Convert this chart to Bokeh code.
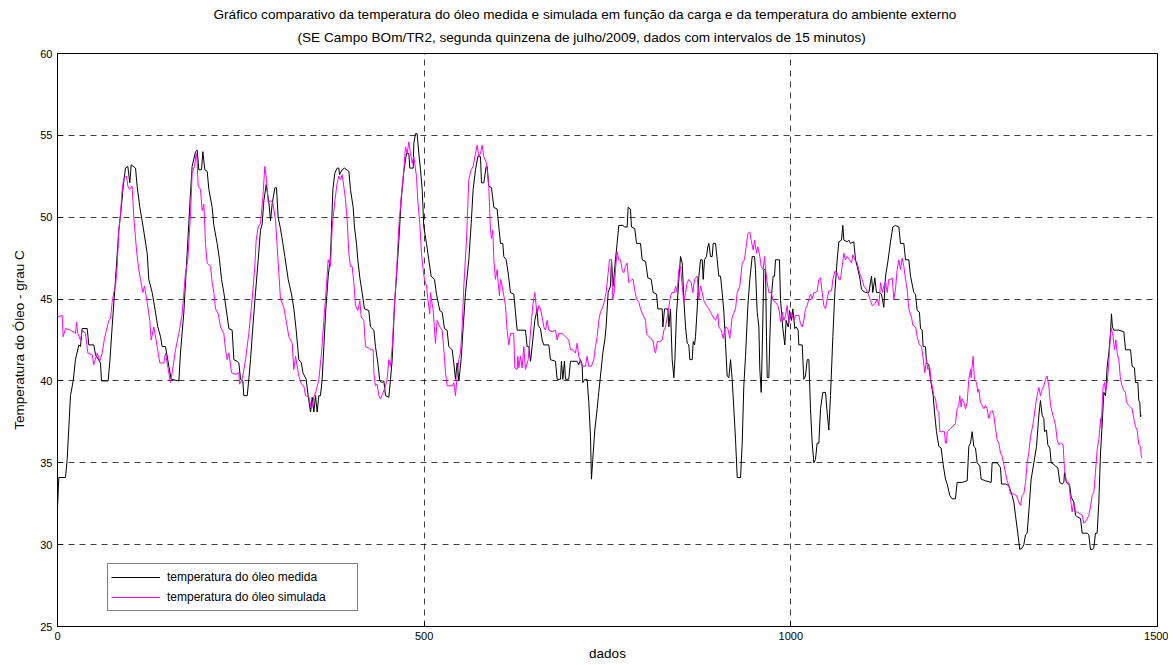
from bokeh.plotting import figure
from bokeh.models import Title, Legend, LegendItem, FixedTicker, Range1d
from bokeh.embed import file_html
from bokeh.resources import INLINE

titulo_1 = "Gráfico comparativo da temperatura do óleo medida e simulada em função da carga e da temperatura do ambiente externo"
titulo_2 = "(SE Campo BOm/TR2, segunda quinzena de julho/2009, dados com intervalos de 15 minutos)"
rotulo_x = "dados"
rotulo_y = "Temperatura do Óleo - grau C"
nome_medida = "temperatura do óleo medida"
nome_simulada = "temperatura do óleo simulada"
x_ticks = [0, 500, 1000, 1500]
y_ticks = [25, 30, 35, 40, 45, 50, 55, 60]

x_medida = [0, 1.8, 10.9, 13.2, 17.7, 21.4, 24.5, 29.1, 31.4, 33.6, 40.5, 42.7, 49.5, 51.8, 58.6, 60, 69, 71.4, 74.5, 79.1,
    83.6, 86.8, 89.6, 92.7, 95.9, 98.6, 100.5, 106.4, 108.6, 112.3, 116.8, 122.3, 124.5, 129.1, 133.6, 136.8, 140.5, 142.7, 147.3, 151.8,
    155, 165.5, 167.7, 172.3, 176.8, 180.5, 183.6, 188.2, 190.5, 192.7, 196.4, 198.2, 200.9, 204.1, 206.4, 210.9, 213.2, 217.7, 220.9, 223.7,
    226.8, 230, 233.7, 238.2, 240.5, 245, 247.3, 249.6, 252.7, 254.1, 258.7, 260.9, 263.2, 266.4, 270, 273.7, 276.8, 279.1, 281.4, 284.6,
    288.2, 290.5, 292.7, 296.4, 298.6, 300.9, 304.1, 307.3, 310, 314.6, 319.1, 322.3, 325.5, 329.1, 332.7, 334.6, 339.1, 341.8, 345, 347.3,
    349.6, 351.8, 354.1, 356.4, 358.6, 360.9, 363.2, 365.5, 369.1, 372.3, 375.5, 378.2, 381.4, 383.6, 384.6, 388.2, 391.4, 397.3, 399.5, 403.2,
    405, 407.7, 409.5, 412.3, 415.4, 418.6, 424.5, 426.8, 431.4, 433.6, 436.8, 439.5, 442.7, 445, 447.3, 451.8, 454.1, 456.4, 459.5, 462.3,
    465.4, 468.6, 472.3, 475.9, 479.1, 480.4, 485, 485.9, 488.2, 490.4, 492.7, 495, 497.3, 499.5, 503.2, 506.3, 509.5, 514.1, 516.8, 521.3,
    524.5, 527.7, 531.3, 533.6, 538.2, 540.4, 542.7, 545, 547.3, 550.4, 553.2, 556.4, 560.9, 564.1, 566.8, 570, 573.2, 576.8, 578.2, 581.4,
    584.5, 585.9, 588.1, 591.8, 595, 599.5, 601.8, 604.1, 607.2, 608.6, 611.8, 614.5, 617.7, 622.2, 624.5, 626.8, 638.1, 640.4, 642.7, 645,
    647.2, 650.9, 654.1, 655.4, 658.6, 660.9, 663.1, 670, 672.2, 679.1, 681.3, 685.9, 687.2, 689.1, 691.3, 692.7, 697.2, 699.5, 708.6, 710.9,
    713.1, 715.4, 716.3, 719.1, 722.2, 724.5, 726.8, 728.1, 729.9, 732.7, 735.9, 738.1, 740.4, 743.6, 746.3, 748.1, 750.9, 754.1, 755.4, 757.7,
    760.9, 763.1, 765.4, 770.9, 773.6, 776.8, 778.1, 781.3, 782.7, 787.2, 789.6, 795, 797.3, 801.9, 805, 809.6, 812.3, 816.9, 818.7, 824.6,
    825.5, 827.8, 832.3, 833.7, 835.9, 838.2, 840.5, 841.9, 844.1, 847.3, 849.6, 851.9, 854.1, 856.4, 858.7, 860.9, 862.3, 865.5, 866.9, 868.7,
    870, 872.3, 874.6, 876.9, 879.1, 880.5, 882.3, 885, 886.8, 888.2, 890.5, 892.8, 894.1, 897.3, 899.6, 901.8, 904.1, 906.4, 908.7, 910.9,
    913.2, 915.5, 917.8, 920, 922.3, 924.6, 926.9, 931.4, 933.7, 935.9, 938.2, 941.4, 944.1, 947.3, 950.5, 951.8, 954.1, 956.4, 957.7, 959.6,
    960.9, 963.2, 965.5, 966.8, 967.8, 970, 971.4, 973.2, 975.9, 977.7, 979.1, 984.5, 985.9, 987.3, 989.1, 991.8, 993.6, 996.4, 998.2, 1000.9,
    1002.7, 1005.5, 1007.3, 1010, 1010.9, 1015.5, 1017.7, 1020, 1022.3, 1024.6, 1026.8, 1029.1, 1031.4, 1033.6, 1035.9, 1038.2, 1040.5, 1043.6, 1047.3, 1049.5,
    1051.8, 1054.1, 1057.3, 1060, 1063.2, 1065.5, 1069.1, 1070.9, 1072.3, 1076.8, 1079.1, 1081.4, 1085.9, 1088.2, 1090.5, 1093.6, 1096.4, 1098.2, 1101.8, 1106.4,
    1110, 1111.8, 1114.5, 1116.8, 1120.9, 1123.6, 1126.8, 1129.1, 1132.7, 1135.9, 1139.1, 1142.7, 1147.3, 1149.5, 1154.1, 1156.4, 1160.9, 1163.2, 1167.7, 1170,
    1172.3, 1175.4, 1176.8, 1179.1, 1180.4, 1183.6, 1185, 1188.2, 1190.4, 1194.1, 1195.9, 1198.6, 1201.8, 1205, 1207.7, 1210.9, 1213.2, 1216.8, 1220, 1224.5,
    1226.8, 1233.6, 1240.5, 1242.7, 1245, 1247.3, 1249.5, 1251.8, 1254.1, 1257.7, 1259.5, 1265.4, 1273.2, 1274.5, 1281.4, 1285.9, 1287.3, 1292.7, 1297.3, 1301.8,
    1304.1, 1306.3, 1309.5, 1312.2, 1315.4, 1317.7, 1320, 1322.3, 1324.5, 1327.7, 1331.4, 1335, 1338.2, 1340.4, 1342.7, 1345, 1345.9, 1348.6, 1350.4, 1353.2,
    1355, 1358.6, 1360.9, 1364.1, 1366.8, 1370, 1372.3, 1373.2, 1375.9, 1379.1, 1380.4, 1382.3, 1385.9, 1388.2, 1390.4, 1395, 1397.3, 1404.1, 1406.4, 1408.6,
    1410.9, 1413.2, 1415.4, 1417.7, 1420, 1422.3, 1424.5, 1426.8, 1429.1, 1431.4, 1433.6, 1435.9, 1437.2, 1438.6, 1440.4, 1447.3, 1454.1, 1456.4, 1463.2, 1465.4,
    1468.6, 1470, 1473.2, 1474.5, 1475.9, 1476.8, 1477.7]
y_medida = [32.3, 34.1, 34.1, 35.2, 39.1, 40.0, 41.3, 42.2, 42.1, 43.2, 43.2, 42.2, 42.2, 41.6, 41.1, 40.0, 40.0, 41.2, 43.3, 46.2,
    49.2, 50.5, 51.9, 53.0, 53.1, 52.1, 53.2, 53.0, 51.9, 50.6, 49.4, 47.8, 46.2, 45.4, 44.2, 43.3, 42.7, 42.1, 42.1, 40.9,
    40.1, 40.0, 41.7, 44.2, 47.8, 50.8, 53.1, 54.0, 54.1, 52.9, 52.9, 54.0, 52.9, 52.8, 51.7, 50.6, 49.5, 48.4, 47.4, 46.2,
    45.4, 44.4, 43.2, 43.1, 41.3, 41.2, 41.1, 40.1, 40.0, 39.1, 39.1, 40.1, 41.3, 43.3, 45.4, 47.4, 49.2, 49.6, 51.0, 52.0,
    50.9, 49.8, 50.8, 51.8, 51.8, 50.0, 49.3, 48.4, 47.6, 46.2, 45.3, 44.4, 43.1, 41.3, 41.1, 40.5, 40.1, 39.1, 38.1, 39.0,
    38.1, 39.1, 38.1, 39.1, 39.1, 40.1, 42.1, 44.1, 46.4, 47.6, 51.7, 52.7, 53.0, 53.0, 52.6, 52.9, 53.0, 52.8, 51.7, 50.6,
    49.4, 48.4, 47.4, 46.3, 45.4, 44.4, 44.3, 43.3, 43.1, 42.1, 41.1, 40.0, 39.9, 40.0, 39.1, 39.0, 40.1, 41.3, 44.6, 46.4,
    48.5, 51.0, 52.8, 53.9, 53.9, 53.0, 53.0, 54.5, 55.1, 55.1, 53.9, 52.9, 51.7, 49.4, 48.4, 47.4, 46.4, 46.2, 45.3, 44.3,
    44.2, 43.2, 43.1, 42.1, 41.9, 41.1, 40.1, 41.1, 40.0, 41.3, 43.3, 45.4, 47.4, 49.6, 51.7, 52.9, 53.7, 53.7, 52.1, 52.1,
    53.1, 53.1, 51.9, 51.8, 50.6, 50.5, 49.4, 48.4, 48.4, 47.6, 47.4, 46.6, 45.4, 45.3, 44.2, 43.1, 43.1, 42.1, 42.1, 41.2,
    42.1, 43.7, 44.4, 43.4, 43.2, 42.5, 42.2, 42.2, 41.3, 41.2, 40.1, 40.1, 41.2, 40.1, 41.2, 40.1, 40.1, 41.2, 41.2, 41.0,
    41.3, 41.0, 39.9, 40.1, 40.1, 38.7, 36.6, 34.0, 35.2, 37.0, 38.3, 39.3, 40.3, 41.7, 42.5, 43.3, 45.4, 45.8, 47.4, 45.8,
    47.4, 48.4, 49.5, 49.5, 49.4, 49.4, 50.6, 50.5, 49.4, 49.3, 48.4, 48.4, 47.4, 47.3, 46.3, 46.2, 45.4, 45.3, 44.4, 44.4,
    43.3, 44.4, 44.4, 43.3, 44.4, 41.3, 40.2, 41.3, 44.1, 46.2, 47.6, 47.2, 45.0, 43.3, 42.3, 42.2, 41.3, 41.3, 42.4, 42.2,
    42.7, 44.4, 46.4, 47.4, 47.4, 46.2, 47.4, 47.6, 48.2, 48.4, 47.6, 47.6, 48.4, 48.4, 47.4, 46.4, 46.4, 45.4, 44.2, 42.3,
    40.3, 40.2, 41.3, 40.1, 38.3, 36.4, 34.1, 34.1, 36.2, 39.7, 41.5, 44.6, 46.2, 47.6, 47.6, 46.8, 44.2, 43.3, 40.7, 39.3,
    41.7, 46.8, 46.8, 42.7, 40.2, 40.2, 42.7, 45.0, 46.4, 46.4, 47.4, 47.4, 45.0, 44.2, 43.2, 42.2, 43.7, 43.3, 44.3, 43.7,
    44.4, 43.2, 43.3, 43.1, 42.2, 42.2, 40.1, 40.3, 41.3, 41.3, 38.3, 36.2, 35.0, 35.2, 36.2, 36.2, 38.3, 39.3, 39.3, 38.1,
    37.0, 39.1, 42.7, 45.4, 47.4, 48.5, 48.6, 49.5, 48.6, 48.5, 48.6, 48.4, 48.5, 47.4, 47.0, 46.4, 45.6, 45.5, 45.4, 45.4,
    46.4, 45.4, 46.3, 45.4, 45.4, 45.3, 44.5, 46.4, 47.4, 48.5, 49.4, 49.5, 49.4, 48.4, 48.4, 47.4, 47.4, 46.4, 45.4, 45.3,
    44.3, 44.2, 43.2, 43.1, 42.1, 42.1, 41.1, 41.0, 40.1, 39.1, 38.1, 36.9, 36.0, 35.9, 34.9, 34.0, 33.7, 33.0, 32.8, 32.8,
    33.8, 33.8, 33.9, 36.0, 36.2, 36.9, 36.0, 35.9, 35.0, 34.8, 34.0, 33.9, 33.8, 35.0, 35.0, 34.7, 33.7, 33.7, 33.6, 33.0,
    32.6, 31.8, 30.7, 29.7, 29.8, 30.0, 30.6, 30.7, 32.0, 34.0, 35.0, 36.0, 37.9, 38.8, 37.9, 37.7, 36.9, 37.0, 36.1, 35.9,
    35.0, 34.9, 34.8, 34.7, 33.8, 33.7, 33.8, 34.4, 33.8, 33.7, 33.6, 32.9, 32.6, 31.8, 31.7, 31.6, 30.7, 30.7, 30.6, 29.7,
    29.7, 29.8, 30.7, 30.7, 32.6, 35.6, 37.3, 39.3, 39.1, 40.9, 41.7, 42.9, 44.1, 43.3, 43.1, 43.1, 43.0, 41.9, 41.9, 40.9,
    40.8, 39.9, 39.9, 38.8, 38.7, 37.8, 37.9]

x_simulada = [0, 6.4, 7.7, 10.9, 17.7, 24.5, 25.9, 27.7, 31.4, 33.6, 38.2, 41.4, 47.3, 49.5, 54.1, 57.7, 60.9, 64.1, 70, 72.3,
    74.5, 76.8, 79.1, 81.4, 83.6, 85.9, 88.2, 90.5, 94.1, 95.9, 98.2, 101.8, 104.1, 107.7, 110.9, 113.2, 116.4, 118.6, 122.3, 125.9,
    127.7, 131.4, 135.9, 139.5, 145, 147.3, 149.5, 154.1, 157.7, 160.9, 165.5, 170, 174.5, 177.7, 181.4, 183.6, 186.8, 189.1, 190.5, 191.8,
    195, 197.3, 199.6, 201.8, 204.1, 208.7, 210.9, 213.2, 215.5, 219.1, 222.3, 226.8, 229.1, 231.4, 233.7, 237.3, 242.7, 247.3, 248.2, 251.8,
    256.4, 260.9, 265.5, 269.1, 270.9, 273.7, 276.8, 280, 282.7, 285, 287.3, 290.5, 293.6, 297.3, 299.6, 301.8, 304.1, 308.6, 311.8, 315.5,
    320, 322.3, 324.6, 329.1, 332.7, 335.9, 338.2, 342.7, 346.4, 349.6, 352.7, 356.4, 360, 363.2, 366.4, 369.1, 372.3, 374.6, 378.2, 381.4,
    383.6, 385.9, 388.2, 390.4, 392.7, 395, 397.3, 399.5, 401.8, 404.1, 406.4, 409.5, 412.3, 414.1, 417.7, 420, 424.5, 427.7, 430.4, 431.4,
    433.6, 435.9, 438.2, 440.4, 444.1, 447.3, 449.5, 451.8, 454.1, 456.4, 459.5, 462.3, 465.4, 468.6, 472.3, 474.5, 476.8, 479.1, 481.3, 483.6,
    485.9, 489.5, 491.3, 494.1, 496.3, 498.6, 500.4, 503.2, 505, 507.7, 508.6, 512.3, 515.4, 517.7, 521.3, 524.5, 526.8, 529.1, 531.3, 538.2,
    540.4, 542.7, 545, 547.3, 549.5, 551.8, 554.1, 557.7, 560.9, 564.1, 566.8, 570, 572.3, 574.5, 576.8, 579.1, 581.3, 585, 585.9, 588.1,
    590.4, 591.8, 593.6, 595, 597.2, 599.5, 600.9, 602.7, 604.1, 606.3, 608.6, 610.9, 613.1, 615.4, 617.7, 622.2, 623.6, 626.8, 627.7, 629,
    631.3, 633.6, 635.9, 638.1, 641.8, 644.1, 646.3, 648.1, 650.9, 652.7, 654.1, 656.3, 658.6, 660.9, 663.1, 665.4, 667.7, 670, 674.5, 679.1,
    681.3, 683.6, 688.1, 692.7, 697.2, 699.5, 702.7, 706.3, 708.6, 710.9, 713.1, 715.4, 720, 722.2, 724.5, 728.1, 731.3, 733.6, 735.9, 738.1,
    740.4, 743.6, 746.3, 748.1, 750.9, 752.7, 755.4, 757.2, 759, 760.9, 763.1, 765.4, 767.7, 770, 772.2, 774.5, 776.8, 779, 783.6, 785,
    786.9, 789.6, 792.8, 795, 798.7, 801.9, 803.2, 806.4, 809.6, 812.3, 814.1, 815.5, 817.8, 821.4, 824.6, 826.9, 829.1, 832.3, 835.9, 838.2,
    841.4, 842.8, 845, 847.3, 849.6, 851.9, 854.1, 856.4, 858.7, 860.9, 864.1, 866.4, 868.7, 872.3, 874.6, 876.9, 879.1, 881.4, 885, 888.2,
    890.5, 894.1, 897.3, 900.5, 901.8, 905, 907.8, 910.9, 914.1, 916.8, 920, 924.6, 926.9, 930.5, 933.7, 936.8, 939.6, 941.4, 944.1, 945.9,
    948.7, 950.5, 953.2, 955, 957.7, 959.6, 962.3, 964.1, 965.5, 967.8, 970, 973.2, 975.9, 979.1, 982.3, 984.5, 985.9, 988.2, 990.5, 992.7,
    995, 997.3, 999.6, 1001.8, 1004.1, 1006.4, 1010.9, 1013.2, 1015.5, 1017.7, 1020, 1022.3, 1024.6, 1026.8, 1029.1, 1031.4, 1033.6, 1035.9, 1038.2, 1040.5,
    1042.7, 1045, 1047.3, 1049.5, 1051.8, 1055.5, 1057.3, 1060, 1063.2, 1065.5, 1067.7, 1070, 1072.3, 1074.5, 1076.8, 1080, 1082.7, 1084.5, 1087.3, 1090.5,
    1092.7, 1095, 1097.3, 1099.5, 1102.7, 1106.4, 1108.6, 1110.9, 1114.5, 1117.7, 1120, 1122.3, 1124.6, 1126.8, 1129.1, 1131.4, 1133.6, 1135.9, 1138.2, 1140.5,
    1142.7, 1145, 1147.3, 1149.5, 1151.8, 1154.1, 1156.4, 1158.6, 1160.9, 1164.5, 1166.4, 1170, 1172.3, 1175.4, 1178.2, 1180, 1182.7, 1185, 1186.8, 1189.5,
    1191.4, 1192.7, 1195, 1197.3, 1199.5, 1201.8, 1203.2, 1209.5, 1210.9, 1212.3, 1213.2, 1217.7, 1222.3, 1224.5, 1226.8, 1229.1, 1230.4, 1232.3, 1233.6, 1235.9,
    1238.2, 1240.5, 1242.7, 1245, 1245.9, 1247.3, 1248.6, 1250.4, 1253.2, 1255, 1256.3, 1258.6, 1260.9, 1263.2, 1265.4, 1267.7, 1270, 1272.3, 1274.5, 1276.8,
    1279.1, 1281.4, 1283.6, 1285.9, 1288.2, 1290.4, 1292.7, 1295, 1297.3, 1299.5, 1304.1, 1307.7, 1310.9, 1313.2, 1315.4, 1317.7, 1320, 1322.3, 1324.5, 1326.8,
    1329.1, 1331.4, 1333.6, 1335.9, 1338.2, 1340.4, 1342.7, 1345, 1347.3, 1349.5, 1351.8, 1354.1, 1356.3, 1358.6, 1360.9, 1363.2, 1365.4, 1367.7, 1371.3, 1373.2,
    1375.9, 1379.1, 1381.3, 1383.6, 1385.9, 1388.2, 1390.4, 1394.1, 1397.3, 1399.5, 1403.2, 1406.4, 1408.6, 1410.9, 1413.2, 1415.4, 1417.7, 1420, 1422.3, 1423.2,
    1424.5, 1425.9, 1427.7, 1429.1, 1431.4, 1433.6, 1435.9, 1437.2, 1439.5, 1441.3, 1443.2, 1445, 1447.3, 1449.5, 1451.8, 1454.1, 1456.4, 1457.7, 1460.9, 1463.2,
    1465.4, 1467.7, 1470, 1472.3, 1474.5, 1476.8, 1478.1]
y_simulada = [43.9, 44.0, 42.7, 43.2, 43.1, 42.9, 43.6, 42.9, 42.5, 43.1, 42.9, 41.7, 41.6, 41.0, 41.7, 41.2, 41.7, 42.6, 43.7, 43.8,
    44.8, 45.4, 45.8, 47.0, 49.2, 50.2, 51.7, 52.4, 52.5, 51.9, 51.7, 51.9, 50.0, 48.0, 46.8, 46.2, 45.4, 45.8, 44.8, 43.7,
    42.5, 43.3, 42.1, 41.1, 41.1, 41.7, 41.1, 39.9, 40.9, 41.9, 42.9, 44.1, 46.6, 47.4, 50.2, 52.7, 53.1, 53.9, 53.3, 51.9,
    51.7, 50.4, 50.8, 48.4, 47.2, 47.0, 46.0, 45.4, 44.4, 44.1, 43.3, 42.9, 41.9, 41.3, 41.7, 40.5, 40.4, 40.5, 39.8, 40.1,
    41.3, 42.9, 45.0, 47.0, 48.6, 49.4, 49.6, 51.2, 53.1, 52.3, 50.9, 51.0, 50.9, 49.8, 48.2, 46.6, 45.0, 44.5, 43.7, 42.7,
    42.3, 40.7, 41.5, 40.3, 39.8, 39.7, 39.1, 39.0, 38.3, 39.0, 39.4, 40.1, 41.7, 43.7, 45.6, 47.4, 47.0, 49.4, 51.0, 52.1,
    52.5, 52.3, 52.6, 51.9, 51.1, 49.8, 47.8, 47.0, 47.0, 46.0, 44.6, 44.3, 44.9, 43.9, 43.7, 42.1, 42.0, 41.9, 41.9, 40.5,
    39.7, 39.8, 39.1, 38.9, 39.3, 39.7, 40.1, 41.3, 40.9, 42.1, 44.6, 46.6, 49.4, 51.2, 52.9, 54.3, 53.9, 54.6, 53.9, 53.3,
    53.7, 52.5, 51.0, 49.6, 47.8, 46.8, 46.2, 45.8, 45.0, 44.1, 45.4, 44.3, 42.3, 43.7, 43.3, 43.1, 41.9, 40.5, 39.7, 39.7,
    39.9, 39.1, 40.3, 41.3, 41.7, 43.3, 45.8, 48.6, 52.3, 52.9, 53.1, 53.9, 54.4, 53.7, 53.9, 54.4, 53.7, 53.3, 52.9, 51.9,
    49.2, 48.7, 49.2, 47.4, 46.2, 46.8, 46.0, 45.2, 46.2, 45.8, 45.2, 44.6, 43.1, 42.2, 42.9, 42.9, 40.8, 40.7, 41.5, 40.8,
    41.5, 40.8, 42.1, 40.7, 41.3, 42.5, 43.7, 44.6, 45.4, 44.6, 44.1, 44.6, 44.4, 43.9, 43.3, 43.1, 43.7, 43.1, 43.0, 43.1,
    42.5, 42.9, 42.9, 42.7, 42.5, 41.9, 41.9, 41.7, 42.3, 41.5, 41.2, 40.9, 40.9, 41.5, 40.9, 40.9, 41.3, 42.1, 42.7, 43.7,
    44.2, 44.5, 45.0, 45.4, 46.6, 47.4, 47.4, 45.0, 45.4, 46.8, 47.9, 47.4, 47.4, 46.8, 46.6, 47.0, 47.2, 46.0, 46.2, 46.2,
    45.6, 45.0, 44.8, 44.4, 44.0, 43.7, 42.9, 42.7, 42.6, 42.4, 41.9, 41.7, 42.4, 42.4, 42.5, 43.1, 43.3, 44.1, 45.2, 45.4,
    45.4, 45.8, 45.4, 46.8, 47.0, 45.8, 44.8, 45.4, 46.0, 46.2, 46.0, 45.4, 46.2, 46.4, 45.0, 45.8, 45.4, 44.9, 44.6, 44.4,
    44.2, 43.9, 43.7, 44.1, 43.3, 43.1, 42.6, 43.3, 43.2, 42.6, 43.9, 44.4, 45.4, 45.8, 47.2, 47.4, 48.4, 49.0, 49.1, 48.6,
    48.0, 48.6, 47.8, 48.2, 47.6, 47.0, 46.8, 47.6, 46.8, 46.0, 45.4, 45.4, 44.9, 44.8, 44.6, 44.2, 43.6, 44.2, 43.7, 44.0,
    44.6, 43.5, 44.2, 44.0, 43.7, 44.0, 44.0, 43.5, 43.3, 43.7, 44.4, 44.6, 45.0, 45.3, 45.0, 45.4, 45.4, 45.5, 46.2, 46.3,
    45.4, 44.6, 44.4, 45.0, 45.5, 45.5, 46.2, 46.7, 46.6, 46.2, 46.2, 47.0, 47.8, 47.4, 47.6, 47.4, 47.2, 47.7, 47.4, 47.2,
    46.8, 46.4, 46.2, 45.8, 45.6, 45.2, 44.9, 44.6, 44.7, 45.0, 44.6, 46.0, 45.4, 45.8, 46.1, 45.4, 46.2, 46.2, 46.3, 45.0,
    45.6, 46.8, 47.4, 46.8, 47.5, 47.0, 46.2, 45.6, 44.4, 43.9, 43.4, 43.3, 42.7, 42.2, 42.1, 41.5, 40.5, 41.3, 40.7, 40.8,
    39.9, 39.7, 39.1, 38.9, 38.2, 38.1, 36.9, 36.9, 36.2, 36.2, 36.9, 37.1, 37.3, 37.4, 38.3, 38.5, 39.1, 38.4, 38.9, 38.7,
    38.3, 38.7, 40.1, 40.7, 40.2, 40.9, 41.5, 40.1, 39.9, 39.3, 39.5, 38.7, 38.5, 38.3, 38.5, 38.3, 37.7, 38.1, 38.2, 37.9,
    37.1, 36.4, 36.2, 35.6, 35.4, 34.9, 34.4, 33.9, 33.6, 33.1, 33.1, 33.0, 32.6, 32.4, 33.0, 33.1, 33.8, 35.0, 35.6, 36.6,
    37.1, 37.7, 38.5, 39.1, 39.6, 39.1, 39.5, 39.7, 40.1, 40.3, 39.7, 38.5, 38.1, 37.7, 37.3, 36.4, 36.1, 36.2, 36.1, 34.6,
    33.8, 33.8, 32.8, 32.0, 32.6, 32.0, 32.0, 31.9, 31.8, 31.3, 31.5, 31.8, 32.3, 33.0, 33.2, 34.4, 35.8, 36.4, 37.7, 37.1,
    38.5, 39.7, 39.9, 39.3, 39.9, 41.1, 42.9, 43.2, 42.7, 41.9, 42.5, 41.7, 41.3, 40.1, 39.7, 39.4, 39.3, 38.7, 38.5, 38.4,
    38.3, 37.7, 37.2, 37.0, 36.1, 36.0, 35.3]

FONT = "Liberation Sans"

p = figure(width=1168, height=663, x_range=Range1d(0, 1500), y_range=Range1d(25, 60),
           output_backend="svg", toolbar_location=None, title=None,
           min_border_left=57, min_border_right=11, min_border_top=53, min_border_bottom=35,
           background_fill_color="white", border_fill_color="white")
p.outline_line_color = "black"
p.outline_line_width = 1

# second title line is added first, so it sits nearest the plot frame
p.add_layout(Title(text=titulo_2, align="left", offset=240, standoff=13, vertical_align="top",
                   text_font=FONT, text_font_size="13.6px", text_font_style="normal",
                   text_color="black"), "above")
p.add_layout(Title(text=titulo_1, align="left", offset=156, standoff=0, vertical_align="top",
                   text_font=FONT, text_font_size="13.6px", text_font_style="normal",
                   text_color="black"), "above")

for ax in (p.xaxis[0], p.yaxis[0]):
    ax.major_tick_in = 5
    ax.major_tick_out = 0
    ax.minor_tick_line_color = None
    ax.axis_line_color = "black"
    ax.major_tick_line_color = "black"
    ax.major_label_text_font = FONT
    ax.major_label_text_font_size = "11px"
    ax.major_label_text_color = "black"
    ax.axis_label_text_font = FONT
    ax.axis_label_text_font_size = "13.5px"
    ax.axis_label_text_font_style = "normal"
    ax.axis_label_text_color = "black"
    ax.major_label_standoff = 5
p.xaxis.ticker = FixedTicker(ticks=x_ticks)
p.yaxis.ticker = FixedTicker(ticks=y_ticks)
p.xaxis.axis_label = rotulo_x
p.yaxis.axis_label = rotulo_y
p.xaxis.axis_label_standoff = 3
p.yaxis.axis_label_standoff = 10

p.xgrid.ticker = FixedTicker(ticks=x_ticks)
p.ygrid.ticker = FixedTicker(ticks=y_ticks)
for g in (p.xgrid[0], p.ygrid[0]):
    g.grid_line_color = "black"
    g.grid_line_alpha = 0.75
    g.grid_line_dash = "6 5"
    g.grid_line_width = 1

r1 = p.line(x_medida, y_medida, line_color="black", line_width=1)
r2 = p.line(x_simulada, y_simulada, line_color="#FF00FF", line_width=1)

legend = Legend(items=[LegendItem(label=nome_medida, renderers=[r1]),
                       LegendItem(label=nome_simulada, renderers=[r2])],
                location=(50, 15), padding=3, spacing=0, margin=0,
                label_height=20, glyph_height=20, glyph_width=49, label_standoff=7, label_width=187,
                label_text_font=FONT, label_text_font_size="12px", label_text_color="black",
                border_line_color="black", border_line_width=1,
                background_fill_color="white", background_fill_alpha=1)
p.add_layout(legend)

open("out.html", "w").write(file_html(p, INLINE))
